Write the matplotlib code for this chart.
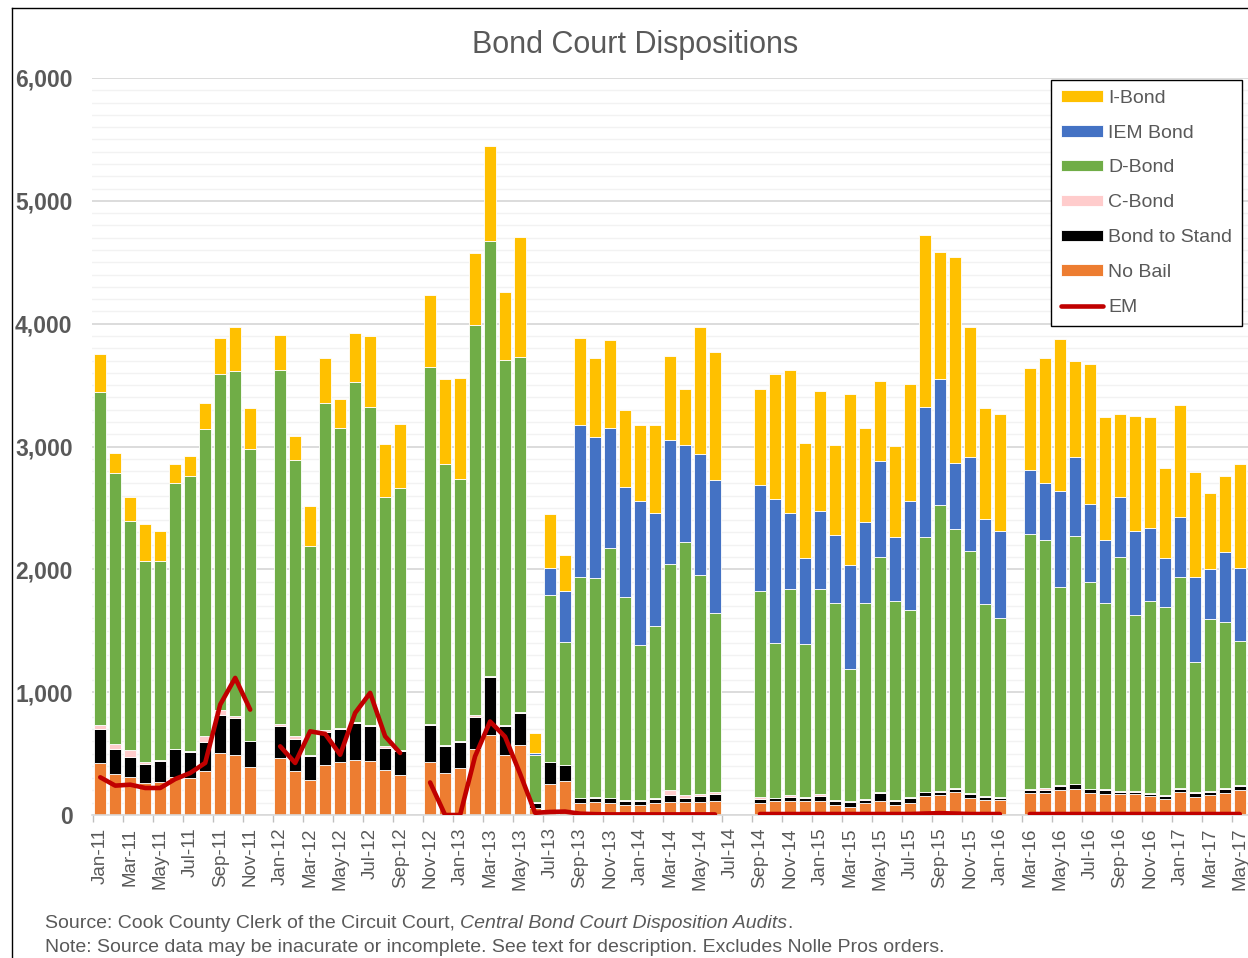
import numpy as np
import pandas as pd
import matplotlib
matplotlib.use('Agg')
import matplotlib.pyplot as plt
from matplotlib.lines import Line2D
from matplotlib.ticker import MultipleLocator, FuncFormatter

N = None  # month with no data

# Months Jan-11 .. May-17
months = pd.date_range('2011-01-01', '2017-05-01', freq='MS').strftime('%b-%y').tolist()

no_bail = [424, 334, 307, 261, 272, 310, 299, 358, 505, 491, 388, N,
           462, 361, 288, 407, 429, 451, 437, 364, 329, N,
           432, 343, 379, 538, 650, 485, 573, 53, 255, 276, 99, 106, 96, 81, 85, 99, 106, 106, 106, 117, N, N,
           100, 111, 111, 111, 111, 81, 68, 95, 114, 81, 100, 152, 160, 187, 138, 122, 125, N,
           179, 179, 201, 214, 182, 168, 174, 168, 157, 133, 187, 149, 163, 182, 203]

bond_to_stand = [276, 206, 168, 154, 171, 225, 214, 239, 312, 299, 212, N,
                 266, 258, 190, 269, 271, 298, 285, 179, 192, N,
                 304, 216, 216, 259, 476, 237, 259, 46, 177, 128, 39, 36, 39, 32, 28, 32, 53, 36, 46, 56, N, N,
                 33, 25, 38, 25, 46, 30, 40, 24, 62, 33, 36, 32, 27, 27, 33, 24, 16, N,
                 22, 27, 38, 36, 27, 38, 16, 19, 17, 24, 25, 30, 27, 27, 30]

c_bond = [36, 41, 57, 14, 8, 5, 6, 44, 41, 14, 5, N,
          13, 22, 13, 14, 9, 8, 14, 16, 5, N,
          7, 14, 10, 17, 7, 7, 7, 5, 3, 3, 4, 7, 7, 11, 11, 11, 43, 17, 21, 15, N, N,
          16, 5, 14, 8, 14, 11, 9, 11, 11, 8, 8, 6, 6, 3, 8, 9, 8, N,
          11, 11, 5, 5, 5, 8, 5, 6, 5, 6, 10, 5, 8, 13, 11]

d_bond = [2707, 2202, 1860, 1637, 1615, 2161, 2239, 2500, 2734, 2810, 2373, N,
          2878, 2248, 1697, 2663, 2438, 2767, 2587, 2026, 2140, N,
          2903, 2287, 2128, 3172, 3540, 2974, 2889, 381, 1360, 1005, 1794, 1780, 2032, 1650, 1264, 1394,
          1841, 2061, 1781, 1455, N, N,
          1672, 1257, 1674, 1245, 1666, 1607, 1069, 1599, 1916, 1617, 1522, 2073, 2328, 2109, 1968, 1565, 1455, N,
          2078, 2019, 1612, 2016, 1686, 1512, 1905, 1435, 1563, 1530, 1716, 1062, 1400, 1347, 1175]

iem_bond = [0, 0, 0, 0, 0, 0, 0, 0, 0, 0, 0, N,
            0, 0, 0, 0, 0, 0, 0, 0, 0, N,
            0, 0, 0, 0, 0, 0, 0, 18, 212, 411, 1236, 1151, 980, 899, 1171, 924, 1008, 796, 988, 1083, N, N,
            863, 1177, 624, 703, 641, 553, 847, 656, 779, 527, 890, 1061, 1026, 537, 770, 687, 708, N,
            521, 470, 784, 641, 629, 516, 486, 684, 597, 397, 491, 689, 405, 569, 589]

i_bond = [306, 165, 198, 307, 250, 155, 163, 217, 288, 355, 337, N,
          285, 198, 326, 367, 241, 402, 573, 437, 519, N,
          584, 687, 828, 591, 775, 552, 980, 166, 443, 294, 715, 641, 715, 623, 620, 712, 687, 453, 1033, 1044, N, N,
          787, 1013, 1162, 937, 977, 728, 1394, 763, 651, 741, 953, 1395, 1039, 1682, 1059, 906, 955, N,
          828, 1012, 1238, 787, 1143, 998, 679, 934, 901, 735, 912, 860, 618, 625, 852]

em = [307, 239, 247, 220, 220, 293, 342, 424, 899, 1116, 858, N,
      559, 424, 681, 660, 491, 831, 994, 641, 505, N,
      265, 0, 0, 478, 761, 637, 336, 18, 25, 28, 11, 7, 5, 5, 5, 5, 5, 5, 5, 5, N, N,
      8, 8, 8, 8, 8, 8, 8, 8, 8, 8, 8, 12, 15, 12, 8, 8, 8, N,
      8, 8, 8, 8, 8, 8, 8, 8, 8, 8, 8, 8, 8, 8, 8]

plt.rcParams['font.family'] = ['Liberation Sans', 'DejaVu Sans']
grey = '#595959'
W, H = 1248, 958

fig = plt.figure(figsize=(W / 100, H / 100), dpi=100)
ax = fig.add_axes([92 / W, 143 / H, 1156 / W, 737 / H])

x = np.arange(len(months))
has_data = ~np.isnan(np.array(no_bail, dtype=float))

# stacked bars, bottom to top
series = [('No Bail', no_bail, '#ED7D31'),
          ('Bond to Stand', bond_to_stand, '#000000'),
          ('C-Bond', c_bond, '#FFCCCC'),
          ('D-Bond', d_bond, '#70AD47'),
          ('IEM Bond', iem_bond, '#4472C4'),
          ('I-Bond', i_bond, '#FFC000')]
bottom = np.zeros(len(months))
handles = {}
for name, vals, col in series:
    v = np.nan_to_num(np.array(vals, dtype=float))
    handles[name] = ax.bar(x[has_data], v[has_data], 0.8, bottom=bottom[has_data], color=col,
                           edgecolor='white', linewidth=0.6, label=name, zorder=2)
    bottom += v

em_line, = ax.plot(x, np.array(em, dtype=float), color='#C00000', lw=3.3,
                   solid_capstyle='round', solid_joinstyle='round', zorder=3, label='EM')

# axes styling
ax.set_xlim(-0.55, 76.55)
ax.set_ylim(0, 6000)
ax.yaxis.set_major_locator(MultipleLocator(1000))
ax.yaxis.set_minor_locator(MultipleLocator(100))
ax.yaxis.set_major_formatter(FuncFormatter(lambda v, p: f'{int(v):,}'))
ax.yaxis.grid(True, which='major', color='#D9D9D9', lw=1.3)
ax.yaxis.grid(True, which='minor', color='#F2F2F2', lw=1.0)
ax.set_axisbelow(True)
for s in ['top', 'right', 'left']:
    ax.spines[s].set_visible(False)
ax.spines['bottom'].set_color('#D9D9D9')
ax.spines['bottom'].set_linewidth(1.2)

ax.tick_params(axis='y', which='both', length=0, pad=14, labelsize=16.5, labelcolor=grey)
for lab in ax.get_yticklabels():
    lab.set_fontweight('bold')

ax.set_xticks(x[::2])
ax.set_xticklabels(months[::2], rotation=90, fontsize=13.5, color=grey)
ax.set_xticks(np.arange(-0.5, 77, 2), minor=True)
ax.tick_params(axis='x', which='major', length=0, pad=9)
ax.tick_params(axis='x', which='minor', length=5, color='#BFBFBF', width=1)

# legend
order = ['I-Bond', 'IEM Bond', 'D-Bond', 'C-Bond', 'Bond to Stand', 'No Bail']
leg = ax.legend([handles[k] for k in order] + [em_line], order + ['EM'],
                loc='upper right', bbox_to_anchor=(1242 / W, 1 - 80 / H), bbox_transform=fig.transFigure,
                fontsize=14, frameon=True, fancybox=False, framealpha=1, edgecolor='black',
                borderaxespad=0, borderpad=0.5, labelspacing=0.92, handlelength=2.2,
                handleheight=0.55, handletextpad=0.25)
leg.get_frame().set_linewidth(1.0)
for t in leg.get_texts():
    t.set_color(grey)

# title
fig.text(635 / W, 1 - 45 / H, 'Bond Court Dispositions', ha='center', va='center', fontsize=22, color=grey)

# outer frame (left and top edges visible)
fig.add_artist(Line2D([11.5 / W, 11.5 / W], [0, 1 - 8.3 / H], transform=fig.transFigure, color='black', lw=1))
fig.add_artist(Line2D([11.5 / W, 1], [1 - 8.3 / H, 1 - 8.3 / H], transform=fig.transFigure, color='black', lw=1))

# footer notes
r = fig.canvas.get_renderer()
fs = 14
fy = 1 - 924 / H
t1 = fig.text(45 / W, fy, 'Source: Cook County Clerk of the Circuit Court, ', fontsize=fs, color=grey, va='center')
bb = t1.get_window_extent(r)
t2 = fig.text(bb.x1 / W, fy, 'Central Bond Court Disposition Audits', fontsize=fs, color=grey, va='center',
              style='italic')
bb2 = t2.get_window_extent(r)
fig.text(bb2.x1 / W, fy, '.', fontsize=fs, color=grey, va='center')
fig.text(45 / W, 1 - 947 / H,
         'Note: Source data may be inacurate or incomplete. See text for description. Excludes Nolle Pros orders.',
         fontsize=fs, color=grey, va='center')

fig.savefig('out.png', dpi=100)
